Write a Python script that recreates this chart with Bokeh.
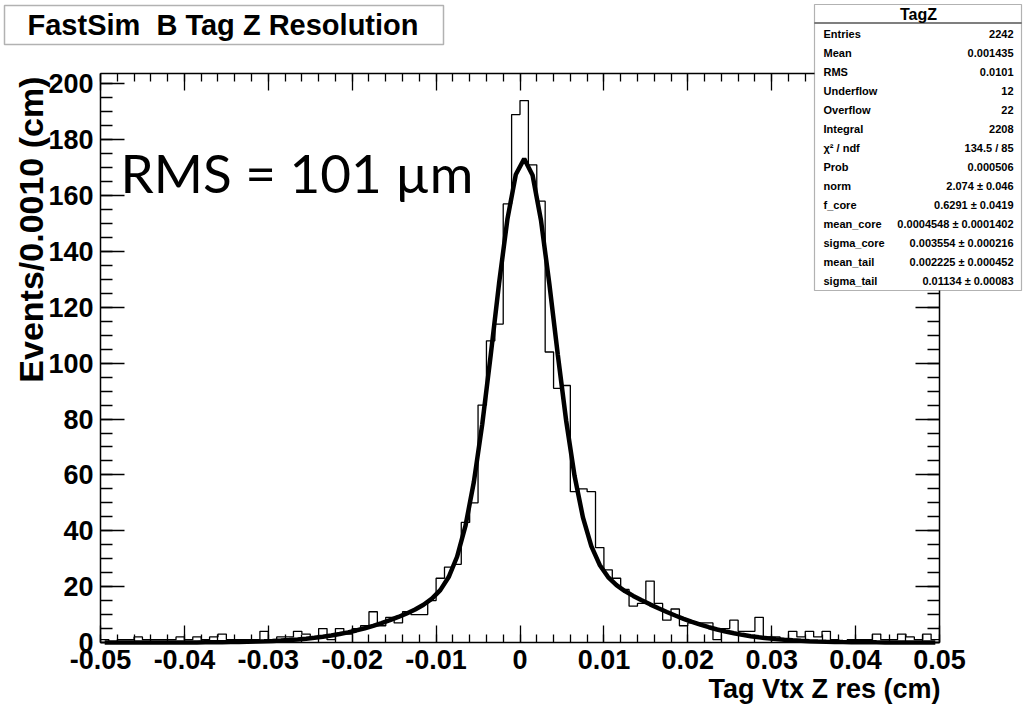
import math
from bokeh.plotting import figure
from bokeh.models import (Label, BoxAnnotation, LinearAxis, FixedTicker, Range1d,
                          CustomJSTickFormatter)
from bokeh.embed import file_html
from bokeh.resources import INLINE

# ---------------- data ----------------
x_min, x_max, bin_width = -0.05, 0.05, 0.001
y_max = 203.7

counts = [1, 0, 1, 1, 2, 1, 1, 1, 1, 2,
          1, 2, 1, 2, 3, 1, 1, 1, 1, 4,
          1, 2, 2, 4, 3, 2, 5, 1, 5, 3,
          5, 6, 11, 6, 9, 7, 11, 10, 10, 15,
          23, 27, 28, 43, 50, 85, 108, 114, 157, 189,
          194, 171, 158, 104, 91, 92, 54, 55, 54, 34,
          26, 23, 19, 13, 14, 22, 14, 8, 12, 6,
          7, 7, 7, 1, 5, 8, 4, 4, 9, 2,
          2, 1, 4, 2, 4, 2, 4, 1, 0, 1,
          1, 1, 3, 1, 1, 3, 2, 1, 3, 1]

fit_y = [0.00, 0.00, 0.00, 0.00, 0.00, 0.01, 0.01, 0.01, 0.02, 0.02,
         0.03, 0.04, 0.06, 0.08, 0.11, 0.14, 0.19, 0.25, 0.33, 0.42,
         0.54, 0.69, 0.87, 1.09, 1.36, 1.68, 2.07, 2.51, 3.03, 3.63,
         4.32, 5.09, 5.96, 6.93, 7.98, 9.14, 10.41, 11.84, 13.52, 15.69,
         18.75, 23.43, 30.70, 41.72, 57.45, 78.12, 102.67, 128.47, 151.54, 167.55,
         173.20, 167.28, 151.16, 128.36, 103.15, 79.43, 59.68, 44.81, 34.52, 27.77,
         23.43, 20.54, 18.42, 16.68, 15.12, 13.66, 12.26, 10.92, 9.66, 8.48,
         7.39, 6.38, 5.47, 4.66, 3.93, 3.29, 2.74, 2.26, 1.85, 1.50,
         1.21, 0.97, 0.77, 0.60, 0.47, 0.37, 0.28, 0.21, 0.16, 0.12,
         0.09, 0.07, 0.05, 0.04, 0.03, 0.02, 0.01, 0.01, 0.01, 0.00]

x_ticks = [-0.05, -0.04, -0.03, -0.02, -0.01, 0, 0.01, 0.02, 0.03, 0.04, 0.05]
y_ticks = [0, 20, 40, 60, 80, 100, 120, 140, 160, 180, 200]

stat_title = "TagZ"
stat_names = ["Entries", "Mean", "RMS", "Underflow", "Overflow", "Integral",
              "\u03c7\u00b2 / ndf", "Prob", "norm", "f_core", "mean_core",
              "sigma_core", "mean_tail", "sigma_tail"]
stat_values = ["2242", "0.001435", "0.0101", "12", "22", "2208", "134.5 / 85",
               "0.000506", "2.074 \u00b1 0.046", "0.6291 \u00b1 0.0419",
               "0.0004548 \u00b1 0.0001402", "0.003554 \u00b1 0.000216",
               "0.002225 \u00b1 0.000452", "0.01134 \u00b1 0.00083"]

title_text = "FastSim\u00a0 B Tag Z Resolution"
x_title = "Tag Vtx Z res (cm)"
y_title = "Events/0.0010 (cm)"
note_text = "RMS = 101 \u00b5m"

edges = [x_min + bin_width * i for i in range(len(counts) + 1)]
centers = [x_min + bin_width * (i + 0.5) for i in range(len(counts))]

# ---------------- layout ----------------
W, H = 1023, 706
FL, FR, FT, FB = 100, 939, 73, 642   # ROOT frame edges in canvas pixels
kx = (x_max - x_min) / (FR - FL)
ky = y_max / (FB - FT)
xr = Range1d(x_min - FL * kx, x_max + (W - FR) * kx)
yr = Range1d(-(H - FB) * ky, y_max + FT * ky)

SANS = "Liberation Sans"

p = figure(width=W, height=H, x_range=xr, y_range=yr,
           x_axis_location=None, y_axis_location=None,
           output_backend="svg", toolbar_location=None, min_border=0,
           min_border_left=0, min_border_right=0, min_border_top=0, min_border_bottom=0)
p.xgrid.visible = False
p.ygrid.visible = False
p.outline_line_color = None
p.background_fill_color = "white"
p.border_fill_color = "white"

x_minor = [x_min + 0.002 * k for k in range(51)]
y_minor = [5 * k for k in range(41)]
xfmt = CustomJSTickFormatter(code="""
    if (Math.abs(tick) < 1e-9) { return "0"; }
    return tick.toFixed(2);
""")


def make_axis(fixed, bounds, ticker, major_len, minor_len, show_labels):
    ax = LinearAxis(fixed_location=fixed, bounds=bounds, ticker=ticker)
    ax.axis_line_color = "black"
    ax.axis_line_width = 1.5
    ax.major_tick_line_color = "black"
    ax.minor_tick_line_color = "black"
    ax.major_tick_line_width = 1.3
    ax.minor_tick_line_width = 1.3
    ax.major_tick_in = major_len
    ax.major_tick_out = 0
    ax.minor_tick_in = minor_len
    ax.minor_tick_out = 0
    if show_labels:
        ax.major_label_text_font = SANS
        ax.major_label_text_font_style = "bold"
        ax.major_label_text_font_size = "27px"
        ax.major_label_text_color = "black"
        ax.major_label_standoff = 7
    else:
        ax.major_label_text_font_size = "0px"
        ax.major_label_text_alpha = 0
    return ax


bottom_ax = make_axis(0, (x_min, x_max), FixedTicker(ticks=x_ticks, minor_ticks=x_minor), 17, 8, True)
bottom_ax.formatter = xfmt
p.add_layout(bottom_ax, "below")
left_ax = make_axis(x_min, (0, y_max), FixedTicker(ticks=y_ticks, minor_ticks=y_minor), 24, 12, True)
p.add_layout(left_ax, "left")
top_ax = make_axis(y_max, (x_min, x_max), FixedTicker(ticks=x_ticks, minor_ticks=x_minor), 17, 8, False)
p.add_layout(top_ax, "above")
right_ax = make_axis(x_max, (0, y_max), FixedTicker(ticks=y_ticks, minor_ticks=y_minor), 24, 12, False)
p.add_layout(right_ax, "right")

# histogram and fit
p.step(edges, counts + [counts[-1]], mode="after", line_color="black", line_width=1.3)
p.line(centers, fit_y, line_color="black", line_width=4.5)


def clabel(x, y, text, font, size, align, bold=True, angle=0.0):
    # y is the vertical middle of the text line, in canvas pixels from the top
    return Label(x=x, y=y, x_units="canvas", y_units="canvas", text=text, text_font=font,
                 text_font_style="bold" if bold else "normal", text_font_size=size,
                 text_color="black", text_align=align, text_baseline="middle", angle=angle)


def cbox(l, r, t, b, fill, line, lw=1.2):
    return BoxAnnotation(left=l, right=r, top=t, bottom=b, left_units="canvas",
                         right_units="canvas", top_units="canvas", bottom_units="canvas",
                         fill_color=fill, fill_alpha=1.0, line_color=line, line_width=lw,
                         level="annotation")


# big annotation text
p.add_layout(clabel(120, 172, note_text, "Lato", "53px", "left", bold=False))

# axis titles
p.add_layout(clabel(940, 688, x_title, SANS, "27px", "right"))
p.add_layout(clabel(30, 76, y_title, SANS, "34px", "right", angle=math.pi / 2))

# title box
p.add_layout(cbox(4, 443, 5, 44, "white", "black", 1.5))
p.add_layout(clabel(27, 24, title_text, SANS, "29px", "left"))

# statistics box
p.add_layout(cbox(814, 1021, 4, 290, "white", "black", 1.2))
p.add_layout(cbox(814, 1021, 22, 23, "black", None, 0))
p.add_layout(clabel(918, 13.5, stat_title, SANS, "16px", "center"))
for k, (nm, vl) in enumerate(zip(stat_names, stat_values)):
    yy = 33.5 + 19.0 * k
    p.add_layout(clabel(823, yy, nm, SANS, "11px", "left"))
    p.add_layout(clabel(1013, yy, vl, SANS, "11px", "right"))

open("out.html", "w").write(file_html(p, INLINE))
